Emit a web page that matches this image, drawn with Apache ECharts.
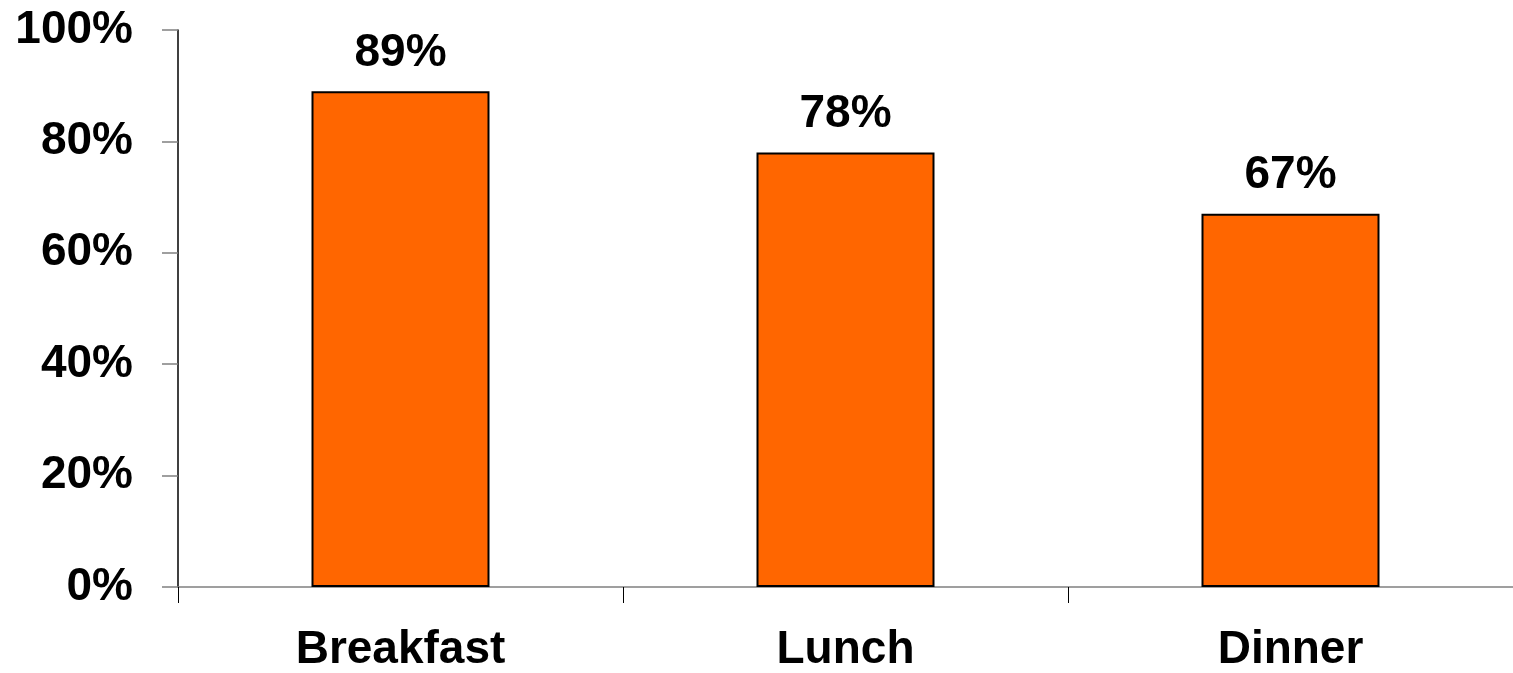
<!DOCTYPE html>
<html><head><meta charset="utf-8">
<script src="https://cdn.jsdelivr.net/npm/echarts@6/dist/echarts.min.js"></script>
<style>html,body{margin:0;padding:0;background:#fff}#c{width:1513px;height:673px}</style>
</head><body><div id="c"></div>
<script>
const categories = ['Breakfast', 'Lunch', 'Dinner'];
const values = [89, 78, 67];
const yTicks = [0, 20, 40, 60, 80, 100];

const FONT = '"Liberation Sans", Arial, sans-serif';
const chart = echarts.init(document.getElementById('c'));
chart.setOption({
  animation: false,
  grid: { left: 178, top: 30, right: 0, bottom: 82, containLabel: false },
  xAxis: {
    type: 'category', data: categories, boundaryGap: true,
    axisLine: { lineStyle: { color: '#808080', width: 1.5 } },
    axisTick: { show: true, length: 16, lineStyle: { color: '#000' } },
    axisLabel: { color: '#000', fontFamily: FONT, fontWeight: 'bold', fontSize: 46, margin: 40 }
  },
  yAxis: {
    type: 'value', min: yTicks[0], max: yTicks[yTicks.length - 1], interval: 20,
    axisLine: { show: true, lineStyle: { color: '#000', width: 1.5 } },
    axisTick: { show: true, length: 16, lineStyle: { color: '#808080', width: 1.5 } },
    splitLine: { show: false },
    axisLabel: { color: '#000', fontFamily: FONT, fontWeight: 'bold', fontSize: 46, margin: 45, formatter: '{value}%' }
  },
  series: [{
    type: 'bar', data: values, barWidth: '40%',
    itemStyle: { color: '#FF6600', borderColor: '#000', borderWidth: 2 },
    label: { show: true, position: 'top', distance: 15, color: '#000', fontFamily: FONT, fontWeight: 'bold', fontSize: 46, formatter: '{c}%' }
  }]
});
</script></body></html>
